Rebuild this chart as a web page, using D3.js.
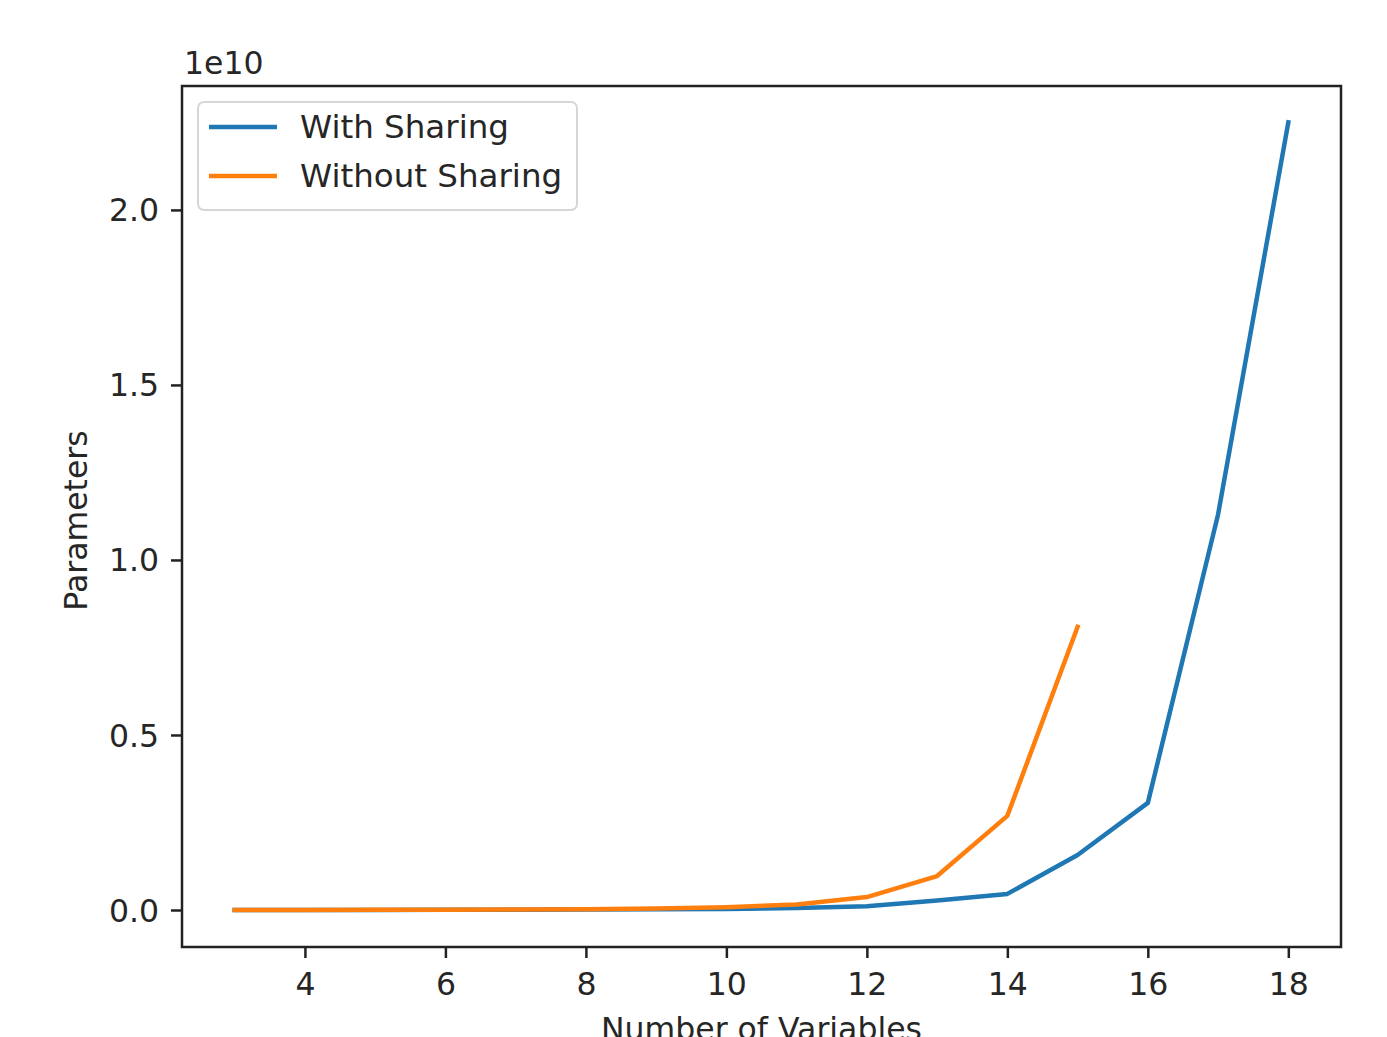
<!DOCTYPE html>
<html>
<head>
<meta charset="utf-8">
<script src="https://cdn.jsdelivr.net/npm/d3@7"></script>
<style>
  body { margin: 0; background: #fff; }
  text { font-family: "DejaVu Sans", sans-serif; fill: #262626; }
</style>
</head>
<body>
<svg id="chart"></svg>
<script>
// data (parameters, in units of 1e10)
var variables = [3, 4, 5, 6, 7, 8, 9, 10, 11, 12, 13, 14, 15, 16, 17, 18];
var withSharing = [0.0001, 0.0002, 0.0003, 0.0005, 0.0008, 0.0012, 0.002, 0.003,
                   0.006, 0.011, 0.027, 0.046, 0.157, 0.306, 1.13, 2.25];
var withoutSharing = [0.0001, 0.0002, 0.0004, 0.0007, 0.0012, 0.002, 0.004, 0.008,
                      0.016, 0.037, 0.097, 0.269, 0.809];
var xTicks = [4, 6, 8, 10, 12, 14, 16, 18];
var yTicks = [0.0, 0.5, 1.0, 1.5, 2.0];
var seriesNames = ['With Sharing', 'Without Sharing'];
var seriesColors = ['#1f77b4', '#ff7f0e'];

var width = 1387, height = 1037;
var box = {left: 182, right: 1341, top: 86, bottom: 947};
var fontSize = 31.5;

var svg = d3.select('#chart')
    .attr('width', width)
    .attr('height', height);

var x = d3.scaleLinear()
    .domain([2.25, 18.75])
    .range([box.left, box.right]);
var y = d3.scaleLinear()
    .domain([-0.1057, 2.354])
    .range([box.bottom, box.top]);

//axes
var xAxis = svg.append('g')
    .attr('transform', 'translate(0,' + box.bottom + ')')
    .call(d3.axisBottom(x).tickValues(xTicks).tickSize(11).tickPadding(13)
        .tickFormat(d3.format('d')));
var yAxis = svg.append('g')
    .attr('transform', 'translate(' + box.left + ',0)')
    .call(d3.axisLeft(y).tickValues(yTicks).tickSize(11).tickPadding(12)
        .tickFormat(d3.format('.1f')));

[xAxis, yAxis].forEach(function(a) {
    a.select('.domain').remove();
    a.selectAll('.tick line').attr('stroke', '#222').attr('stroke-width', 2.5);
    a.selectAll('.tick text')
        .attr('font-size', fontSize)
        .attr('font-family', '"DejaVu Sans", sans-serif')
        .attr('fill', '#262626');
});
yAxis.selectAll('.tick text').attr('dy', '0.35em');
xAxis.selectAll('.tick text').attr('dy', '0.76em');

//lines
var line = d3.line()
    .x(function(d) { return x(d[0]); })
    .y(function(d) { return y(d[1]); });

[withSharing, withoutSharing].forEach(function(vals, i) {
    var pts = vals.map(function(v, j) { return [variables[j], v]; });
    svg.append('path')
        .datum(pts)
        .attr('d', line)
        .attr('fill', 'none')
        .attr('stroke', seriesColors[i])
        .attr('stroke-width', 4.5)
        .attr('stroke-linejoin', 'round')
        .attr('stroke-linecap', 'square');
});

//frame
svg.append('rect')
    .attr('x', box.left)
    .attr('y', box.top)
    .attr('width', box.right - box.left)
    .attr('height', box.bottom - box.top)
    .attr('fill', 'none')
    .attr('stroke', '#222')
    .attr('stroke-width', 2.5);

//offset text and labels
svg.append('text')
    .attr('x', box.left + 2)
    .attr('y', 74)
    .attr('font-size', fontSize)
    .text('1e10');

svg.append('text')
    .attr('x', (box.left + box.right) / 2)
    .attr('y', 1040)
    .attr('text-anchor', 'middle')
    .attr('font-size', fontSize)
    .text('Number of Variables');

svg.append('text')
    .attr('transform', 'translate(87,' + ((box.top + box.bottom) / 2 + 4) + ') rotate(-90)')
    .attr('text-anchor', 'middle')
    .attr('font-size', fontSize)
    .text('Parameters');

//legend
var legend = svg.append('g').attr('transform', 'translate(198,102)');
legend.append('rect')
    .attr('width', 379)
    .attr('height', 108)
    .attr('rx', 6)
    .attr('fill', '#fff')
    .attr('fill-opacity', 0.8)
    .attr('stroke', '#d6d6d6')
    .attr('stroke-width', 2);

seriesNames.forEach(function(name, i) {
    var yy = 25 + i * 49;
    legend.append('line')
        .attr('x1', 11).attr('x2', 79)
        .attr('y1', yy).attr('y2', yy)
        .attr('stroke', seriesColors[i])
        .attr('stroke-width', 4.5);
    legend.append('text')
        .attr('x', 102)
        .attr('y', yy)
        .attr('dy', '0.35em')
        .attr('font-size', 32.5)
        .text(name);
});
</script>
</body>
</html>
